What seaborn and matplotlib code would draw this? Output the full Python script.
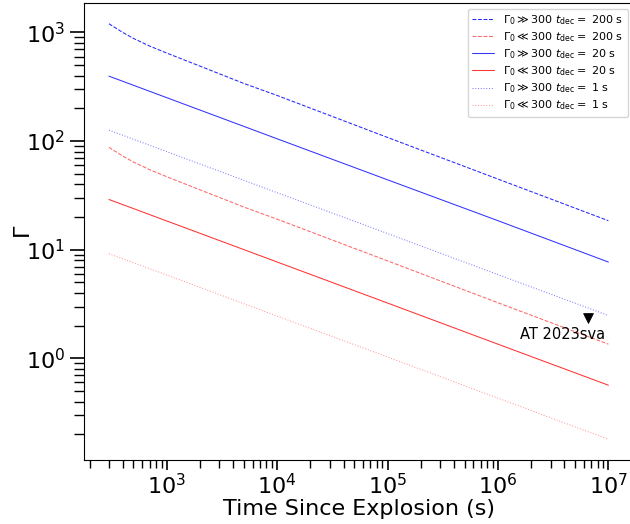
import numpy as np
import pandas as pd
import matplotlib
matplotlib.use("Agg")
import matplotlib.pyplot as plt
import seaborn as sns

# Time grid (s) for each curve
t_curved = [300, 400, 500, 700, 1000, 2000, 5000, 1e4, 1e5, 1e6, 1e7]
t_straight = [300, 1e3, 1e4, 1e5, 1e6, 1e7]

# Gamma_0 >> 300, t_dec = 200 s (dashed blue)
g_hi_200 = [1202, 1000, 881, 750, 646, 490, 339, 263, 108, 44.7, 18.5]
# Gamma_0 << 300, t_dec = 200 s (dashed red)
g_lo_200 = [87.5, 72.8, 64.1, 54.6, 47.0, 35.6, 24.7, 19.1, 7.89, 3.25, 1.35]
# Gamma_0 >> 300, t_dec = 20 s (solid blue)
g_hi_20 = [396, 251, 105, 44.0, 18.5, 7.7]
# Gamma_0 << 300, t_dec = 20 s (solid red)
g_lo_20 = [29.0, 18.4, 7.71, 3.23, 1.35, 0.566]
# Gamma_0 >> 300, t_dec = 1 s (dotted blue)
g_hi_1 = [126, 80.0, 33.5, 14.1, 5.9, 2.48]
# Gamma_0 << 300, t_dec = 1 s (dotted red)
g_lo_1 = [9.2, 5.85, 2.45, 1.03, 0.43, 0.18]

# AT 2023sva point
sva_t = [6.6e6]
sva_g = [2.37]
sva_label = "AT 2023sva"

labels = [
    r"$\Gamma_0 \gg 300$ $t_{\rm dec} =$ 200 s",
    r"$\Gamma_0 \ll 300$ $t_{\rm dec} =$ 200 s",
    r"$\Gamma_0 \gg 300$ $t_{\rm dec} =$ 20 s",
    r"$\Gamma_0 \ll 300$ $t_{\rm dec} =$ 20 s",
    r"$\Gamma_0 \gg 300$ $t_{\rm dec} =$ 1 s",
    r"$\Gamma_0 \ll 300$ $t_{\rm dec} =$ 1 s",
]

sns.set_style("ticks")
plt.rcParams['font.family'] = ['DejaVu Sans']
for k in ["text.color", "axes.labelcolor", "xtick.color", "ytick.color",
          "axes.edgecolor"]:
    plt.rcParams[k] = "black"

fig = plt.figure(figsize=(6.30, 5.24), dpi=100)
ax = fig.add_axes([0.1333, 0.1221, 0.872, 0.8722])

series = [
    (t_curved, g_hi_200, "blue", "--", 0.85),
    (t_curved, g_lo_200, "red", "--", 0.6),
    (t_straight, g_hi_20, "blue", "-", 0.8),
    (t_straight, g_lo_20, "red", "-", 0.8),
    (t_straight, g_hi_1, "blue", ":", 0.5),
    (t_straight, g_lo_1, "red", ":", 0.4),
]
for (t, g, c, ls, a), lab in zip(series, labels):
    df = pd.DataFrame({"t": t, "g": g})
    sns.lineplot(data=df, x="t", y="g", ax=ax, color=c, linestyle=ls,
                 alpha=a, linewidth=0.75, label=lab)

sns.scatterplot(x=sva_t, y=sva_g, ax=ax, marker="v", color="black", s=50,
                edgecolor="black", zorder=5)
ax.text(3.84e6, 1.66, sva_label, ha="center", va="center", fontsize=10.5)

ax.set_xscale("log")
ax.set_yscale("log")
ax.set_xlabel("Time Since Explosion (s)", fontsize=16, labelpad=1)
ax.set_ylabel(r"$\Gamma$", fontsize=16, labelpad=-6)
ax.tick_params(axis="y", which="major", labelsize=16, length=10, width=1.2)
ax.tick_params(axis="y", which="minor", length=7, width=1.0)
ax.tick_params(axis="x", which="major", labelsize=16, length=7, width=1.2, pad=2)
ax.tick_params(axis="x", which="minor", length=6, width=1.0)
for s in ax.spines.values():
    s.set_color("black")

leg = ax.legend(loc="upper right", fontsize=8, labelspacing=0.3,
                borderaxespad=0.5)
for txt in leg.get_texts():
    txt.set_color("black")

fig.savefig("out.png", dpi=100)
